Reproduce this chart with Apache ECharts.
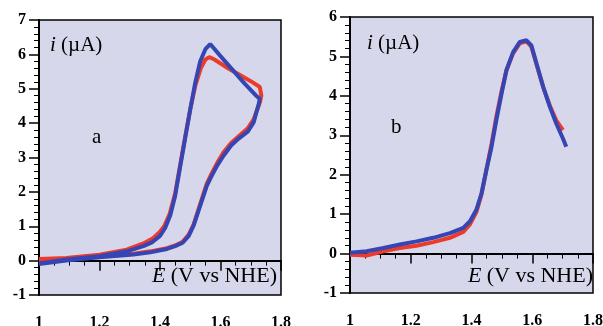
<!DOCTYPE html>
<html>
<head>
<meta charset="utf-8">
<script src="https://cdn.jsdelivr.net/npm/echarts@6/dist/echarts.min.js"></script>
<style>
  html, body { margin: 0; padding: 0; background: #fff; }
  #chart { width: 603px; height: 326px; }
</style>
</head>
<body>
<div id="chart"></div>
<script>
// E (V vs NHE), i (uA) pairs
const aBlue = [
  [1.0, -0.08], [1.09, 0.03], [1.2, 0.13], [1.29, 0.27], [1.345, 0.42], [1.375, 0.54],
  [1.4, 0.72], [1.417, 0.95], [1.434, 1.32], [1.45, 1.88], [1.467, 2.75], [1.483, 3.55],
  [1.5, 4.4], [1.517, 5.2], [1.533, 5.8], [1.55, 6.15], [1.566, 6.3], [1.6, 5.95],
  [1.64, 5.55], [1.68, 5.15], [1.72, 4.78], [1.73, 4.7], [1.726, 4.55], [1.71, 4.03],
  [1.69, 3.75], [1.66, 3.55], [1.635, 3.35], [1.61, 3.05], [1.59, 2.78], [1.57, 2.45],
  [1.555, 2.18], [1.533, 1.6], [1.511, 1.02], [1.495, 0.72], [1.475, 0.52], [1.45, 0.42],
  [1.423, 0.34], [1.368, 0.24], [1.312, 0.18], [1.2, 0.1], [1.09, 0.0], [1.0, -0.1]
];
const aRed = [
  [1.0, 0.05], [1.09, 0.08], [1.2, 0.17], [1.29, 0.32], [1.345, 0.5], [1.375, 0.64],
  [1.4, 0.84], [1.415, 1.02], [1.432, 1.36], [1.45, 1.95], [1.467, 2.8], [1.483, 3.6],
  [1.5, 4.4], [1.517, 5.1], [1.535, 5.6], [1.55, 5.85], [1.563, 5.92], [1.58, 5.85],
  [1.62, 5.62], [1.66, 5.42], [1.7, 5.22], [1.73, 5.05], [1.735, 4.8], [1.73, 4.6],
  [1.71, 4.12], [1.69, 3.85], [1.66, 3.62], [1.635, 3.42], [1.61, 3.15], [1.59, 2.86],
  [1.57, 2.52], [1.555, 2.25], [1.533, 1.65], [1.511, 1.05], [1.495, 0.76], [1.475, 0.55],
  [1.45, 0.44], [1.423, 0.36], [1.368, 0.27], [1.312, 0.2], [1.2, 0.12], [1.09, 0.04],
  [1.0, -0.02]
];
const bBlue = [
  [1.0, 0.02], [1.055, 0.06], [1.11, 0.14], [1.164, 0.23], [1.219, 0.31], [1.274, 0.4],
  [1.329, 0.52], [1.373, 0.65], [1.395, 0.82], [1.416, 1.11], [1.433, 1.53], [1.449, 2.12],
  [1.466, 2.71], [1.482, 3.39], [1.499, 4.06], [1.515, 4.65], [1.537, 5.11], [1.559, 5.37],
  [1.581, 5.41], [1.597, 5.28], [1.614, 4.82], [1.636, 4.23], [1.658, 3.72], [1.679, 3.3],
  [1.701, 2.92], [1.712, 2.71]
];
const bRed = [
  [1.0, -0.03], [1.055, -0.05], [1.11, 0.06], [1.164, 0.14], [1.219, 0.2], [1.274, 0.29],
  [1.329, 0.4], [1.373, 0.55], [1.395, 0.74], [1.416, 1.05], [1.433, 1.5], [1.449, 2.12],
  [1.466, 2.78], [1.482, 3.48], [1.499, 4.12], [1.515, 4.65], [1.537, 5.08], [1.559, 5.33],
  [1.581, 5.38], [1.597, 5.25], [1.614, 4.8], [1.636, 4.22], [1.658, 3.75], [1.679, 3.38],
  [1.701, 3.13]
];
const xTicks = { min: 1, max: 1.8, interval: 0.2 };
const aYTicks = { min: -1, max: 7, interval: 1 };
const bYTicks = { min: -1, max: 6, interval: 1 };

const serif = 'Liberation Serif, Times New Roman, serif';
const blue = '#3546b4';
const red = '#ec3b2a';

function xAxis(gridIndex) {
  return {
    type: 'value', gridIndex: gridIndex,
    min: xTicks.min, max: xTicks.max, interval: xTicks.interval,
    axisLine: { lineStyle: { color: '#000', width: 2 } },
    axisTick: { length: 10, lineStyle: { color: '#000', width: 1.5 } },
    minorTick: { show: true, splitNumber: 4, length: 5, lineStyle: { color: '#000', width: 1 } },
    splitLine: { show: false },
    axisLabel: { color: '#000', fontFamily: serif, fontSize: 16, fontWeight: 'bold', margin: 20 }
  };
}
function yAxis(gridIndex, t) {
  return {
    type: 'value', gridIndex: gridIndex,
    min: t.min, max: t.max, interval: t.interval,
    axisLine: { show: true, lineStyle: { color: '#000', width: 2 } },
    axisTick: { show: true, length: 10, lineStyle: { color: '#000', width: 1.5 } },
    minorTick: { show: true, splitNumber: 5, length: 5, lineStyle: { color: '#000', width: 1 } },
    splitLine: { show: false },
    axisLabel: { color: '#000', fontFamily: serif, fontSize: 16, fontWeight: 'bold', margin: 13 }
  };
}
function line(data, color, idx) {
  return {
    type: 'line', data: data, xAxisIndex: idx, yAxisIndex: idx,
    showSymbol: false, smooth: false, silent: true,
    lineStyle: { color: color, width: 4 }
  };
}
const rich = {
  it: { fontFamily: serif, fontStyle: 'italic', fontSize: 21, fill: '#000' },
  n: { fontFamily: serif, fontSize: 21, fill: '#000' },
  e: { fontFamily: serif, fontStyle: 'italic', fontSize: 22, fill: '#000' },
  m: { fontFamily: serif, fontSize: 22, fill: '#000' }
};
function label(text, pos) {
  return Object.assign({
    type: 'text', z: 100,
    style: { text: text, rich: rich, font: '21px ' + serif, fill: '#000' }
  }, pos);
}

const chart = echarts.init(document.getElementById('chart'));
chart.setOption({
  backgroundColor: '#fff',
  animation: false,
  grid: [
    { left: 39, top: 20, width: 242, height: 275, outerBoundsMode: 'none', show: true, backgroundColor: '#d7d7ec', borderColor: '#000', borderWidth: 1.5 },
    { left: 350, top: 17, width: 243, height: 276, outerBoundsMode: 'none', show: true, backgroundColor: '#d7d7ec', borderColor: '#000', borderWidth: 1.5 }
  ],
  xAxis: [xAxis(0), xAxis(1)],
  yAxis: [yAxis(0, aYTicks), yAxis(1, bYTicks)],
  series: [
    line(aRed, red, 0), line(aBlue, blue, 0),
    line(bRed, red, 1), line(bBlue, blue, 1)
  ],
  graphic: [
    label('{it|i} {n|(µA)}', { left: 50, top: 35 }),
    label('{n|a}', { left: 92, top: 127 }),
    label('{e|E} {m|(V vs NHE)}', { right: 326, top: 265 }),
    label('{it|i} {n|(µA)}', { left: 367, top: 33 }),
    label('{n|b}', { left: 391, top: 117 }),
    label('{e|E} {m|(V vs NHE)}', { right: 10, top: 265 })
  ]
});
</script>
</body>
</html>
